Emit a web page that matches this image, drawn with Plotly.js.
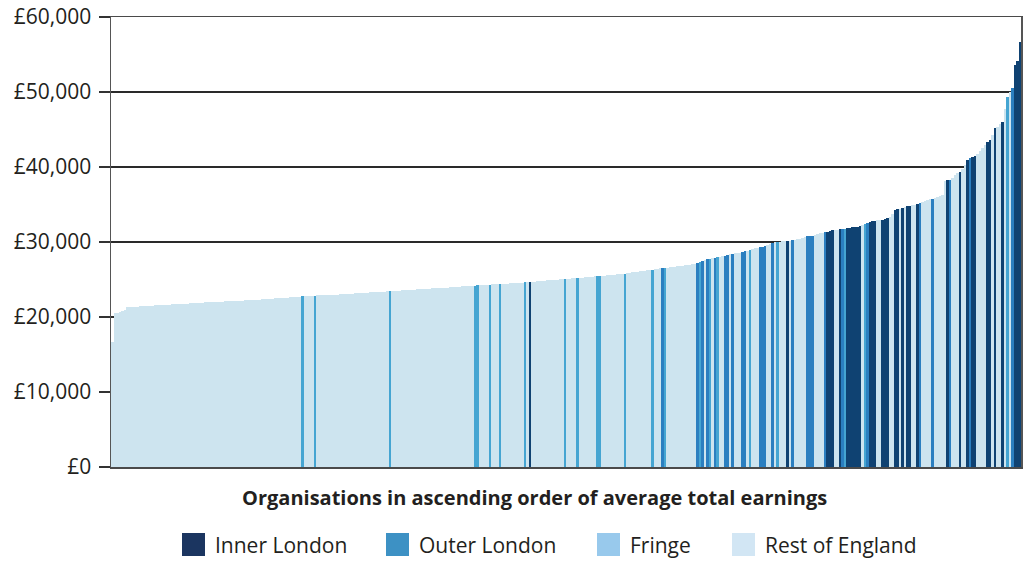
<!DOCTYPE html>
<html><head><meta charset="utf-8">
<script src="https://cdn.plot.ly/plotly-3.0.1.min.js"></script>
<style>html,body{margin:0;padding:0;background:#fff}#chart{width:1028px;height:563px}</style>
</head><body><div id="chart"></div>
<script>
// Average total earnings per organisation, ascending
const earnings = [
16700,20500,20600,20700,20850,21000,21300,21320,21340,21370,
21400,21420,21440,21460,21480,21500,21520,21540,21560,21580,
21600,21620,21640,21660,21680,21700,21720,21740,21760,21780,
21800,21820,21840,21860,21880,21900,21920,21940,21960,21980,
22000,22010,22030,22040,22060,22070,22090,22100,22120,22130,
22150,22170,22190,22210,22230,22250,22270,22290,22310,22330,
22350,22380,22400,22430,22450,22480,22500,22530,22550,22580,
22600,22620,22650,22680,22700,22730,22750,22780,22800,22820,
22830,22850,22870,22880,22900,22920,22930,22950,22970,22980,
23000,23020,23040,23060,23080,23100,23120,23140,23160,23180,
23200,23220,23250,23270,23290,23310,23340,23360,23380,23400,
23430,23450,23470,23490,23510,23530,23550,23580,23600,23620,
23640,23660,23680,23700,23730,23750,23770,23790,23810,23830,
23850,23870,23890,23910,23930,23950,23980,24000,24020,24050,
24070,24100,24120,24150,24170,24200,24220,24240,24260,24280,
24300,24320,24340,24360,24380,24400,24420,24440,24460,24480,
24500,24520,24540,24560,24590,24610,24640,24670,24700,24730,
24760,24790,24820,24850,24880,24910,24940,24970,25000,25020,
25050,25070,25100,25120,25150,25180,25200,25230,25260,25290,
25320,25350,25380,25410,25440,25470,25500,25530,25560,25590,
25620,25650,25680,25710,25740,25800,25850,25900,25950,26000,
26050,26100,26140,26180,26220,26270,26320,26380,26440,26480,
26500,26540,26580,26620,26670,26710,26760,26800,26850,26900,
26950,27000,27050,27100,27150,27300,27450,27600,27700,27800,
27850,27900,27950,28050,28150,28200,28250,28350,28450,28500,
28550,28600,28680,28750,28850,28950,29050,29150,29250,29370,
29400,29450,29550,29700,29850,30000,30020,30050,30080,30120,
30160,30200,30250,30300,30360,30450,30550,30650,30750,30800,
30850,30950,31050,31150,31250,31300,31400,31500,31550,31600,
31650,31700,31750,31800,31850,31900,31960,32000,32050,32130,
32250,32400,32550,32650,32750,32840,32900,32950,33000,33070,
33150,33400,33800,34270,34350,34450,34550,34650,34750,34800,
34900,35000,35120,35240,35350,35460,35580,35690,35800,35920,
36030,36130,36250,38100,38270,38300,38600,38900,39200,39400,
39700,40300,41000,41200,41400,41500,41800,42200,42600,43000,
43400,43600,44300,45200,45400,45700,46000,47800,49400,50000,
50500,53600,54200,56700
];
// Region of each organisation: 0 Inner London, 1 Outer London, 2 Fringe, 3 Rest of England
const regionCode = [
3,3,3,3,3,3,3,3,3,3,3,3,3,3,3,3,3,3,3,3,
3,3,3,3,3,3,3,3,3,3,3,3,3,3,3,3,3,3,3,3,
3,3,3,3,3,3,3,3,3,3,3,3,3,3,3,3,3,3,3,3,
3,3,3,3,3,3,3,3,3,3,3,3,3,3,3,3,2,3,3,3,
3,2,3,3,3,3,3,3,3,3,3,3,3,3,3,3,3,3,3,3,
3,3,3,3,3,3,3,3,3,3,3,2,3,3,3,3,3,3,3,3,
3,3,3,3,3,3,3,3,3,3,3,3,3,3,3,3,3,3,3,3,
3,3,3,3,3,2,2,3,3,3,3,2,3,3,3,2,3,3,3,3,
3,3,3,3,3,2,3,0,3,3,3,3,3,3,3,3,3,3,3,3,
3,2,3,3,3,3,2,3,3,3,3,3,3,3,2,2,3,3,3,3,
3,3,3,3,3,2,3,3,3,3,3,3,3,3,3,3,2,3,3,3,
1,2,3,3,3,3,3,3,3,3,3,3,3,3,1,2,1,3,1,2,
3,1,2,3,3,1,1,3,1,3,3,3,1,1,3,2,3,3,3,1,
1,1,3,3,1,3,2,3,3,3,0,3,1,3,3,3,3,3,1,1,
1,3,3,3,3,1,0,0,0,3,3,0,1,2,0,0,0,0,0,0,
3,2,1,0,0,0,3,3,0,0,0,3,3,0,0,3,0,3,0,0,
3,3,0,1,3,3,3,3,1,3,3,3,3,3,0,1,3,3,3,0,
3,3,0,1,0,0,3,3,3,3,0,0,3,0,3,3,0,3,2,3,
1,0,0,0
];
const regionNames = ['Inner London', 'Outer London', 'Fringe', 'Rest of England'];
const barColors = ['#0f4272', '#2b7fc0', '#45a5d2', '#cde4ef'];
const legendColors = ['#1b3560', '#3d91c4', '#98c9ec', '#d2e6f4'];
const yTickValues = [0, 10000, 20000, 30000, 40000, 50000, 60000];
const yTickText = ['\u00a30', '\u00a310,000', '\u00a320,000', '\u00a330,000', '\u00a340,000', '\u00a350,000', '\u00a360,000'];
const xAxisTitle = 'Organisations in ascending order of average total earnings';

const W = 1028, H = 563, M = {l: 111, r: 7, t: 17, b: 96};
const pw = W - M.l - M.r, ph = H - M.t - M.b;
const px = v => (v - M.l) / pw;
const py = v => (H - M.b - v) / ph;
const FONT = '"Open Sans", "Noto Sans", sans-serif';
const TXT = '#231f20';

const traces = regionNames.map((name, k) => {
  const xs = [], ys = [];
  earnings.forEach((v, i) => { if (regionCode[i] === k) { xs.push(i); ys.push(v); } });
  return {
    type: 'bar', name: name, x: xs, y: ys, width: 1,
    marker: {color: barColors[k], line: {width: 0}},
    showlegend: false, hoverinfo: 'y'
  };
});
traces.reverse();

const swatchX = [182, 386, 597, 732];
const shapes = [], annotations = [];
regionNames.forEach((name, k) => {
  shapes.push({type: 'rect', xref: 'paper', yref: 'paper',
    x0: px(swatchX[k]), x1: px(swatchX[k] + 23), y0: py(556), y1: py(533),
    fillcolor: legendColors[k], line: {width: 0}, layer: 'above'});
  annotations.push({xref: 'paper', yref: 'paper', x: px(swatchX[k] + 31), y: py(545),
    xanchor: 'left', yanchor: 'middle', showarrow: false, text: name,
    font: {family: FONT, size: 21, color: TXT}});
});
annotations.push({xref: 'paper', yref: 'paper', x: px(534), y: py(497),
  xanchor: 'center', yanchor: 'middle', showarrow: false, text: '<b>' + xAxisTitle + '</b>',
  font: {family: FONT, size: 20, color: TXT}});

const layout = {
  width: W, height: H, margin: M,
  paper_bgcolor: '#fff', plot_bgcolor: '#fff',
  barmode: 'overlay', bargap: 0,
  showlegend: false,
  font: {family: FONT, color: TXT},
  xaxis: {
    range: [-0.5, earnings.length - 0.5], showticklabels: false, ticks: '',
    showgrid: false, zeroline: false, showline: true, mirror: true,
    linecolor: '#4a4a4a', linewidth: 1.5, fixedrange: true
  },
  yaxis: {
    range: [0, 60000], tickmode: 'array', tickvals: yTickValues, ticktext: yTickText,
    ticks: 'outside', ticklen: 11, tickwidth: 1.3, tickcolor: '#333',
    ticklabelstandoff: 3,
    tickfont: {family: FONT, size: 21, color: TXT},
    showgrid: true, gridcolor: '#2a2a2a', gridwidth: 1.2, zeroline: false,
    showline: true, mirror: true, linecolor: '#555', linewidth: 1.5, fixedrange: true
  },
  shapes: shapes,
  annotations: annotations
};
Plotly.newPlot('chart', traces, layout, {displayModeBar: false, staticPlot: true});
</script></body></html>
